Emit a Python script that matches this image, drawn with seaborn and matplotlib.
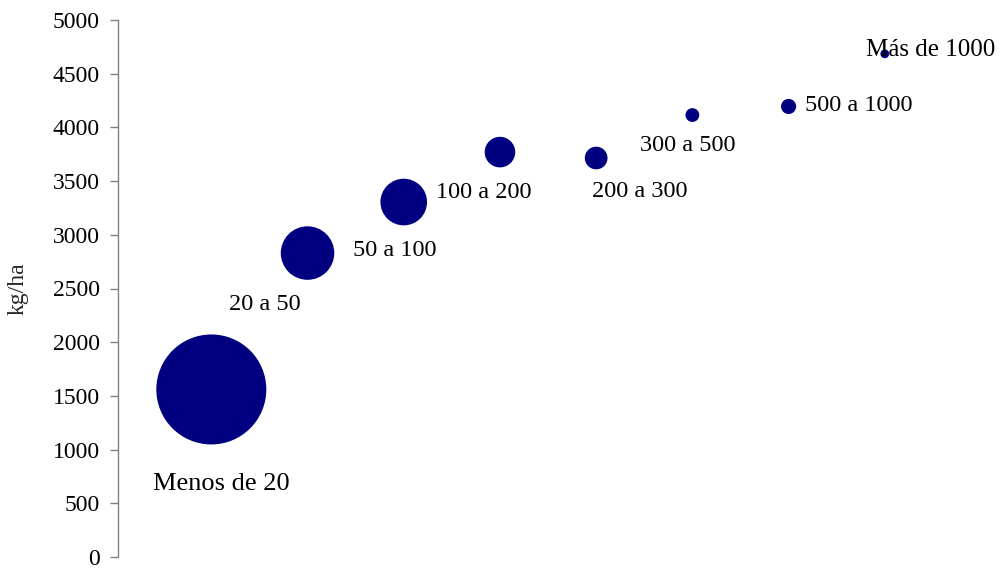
import matplotlib
matplotlib.use("Agg")
import matplotlib.pyplot as plt
import seaborn as sns
import pandas as pd

# Rendimiento por estrato de superficie
estratos = ["Menos de 20", "20 a 50", "50 a 100", "100 a 200",
            "200 a 300", "300 a 500", "500 a 1000", "Más de 1000"]
rendimiento_kg_ha = [1560, 2830, 3305, 3770, 3715, 4115, 4195, 4685]
participacion = [63.4, 15.0, 11.4, 4.9, 2.7, 1.0, 1.2, 0.4]
y_ticks = list(range(0, 5001, 500))

# Desplazamiento de cada etiqueta respecto de su burbuja (px, hacia abajo positivo)
label_offsets = [(9.5, 95), (-43, 51), (-9, 48.5), (-16.5, 40.5),
                 (44, 33.5), (-5, 30), (70.5, -0.5), (46, -4)]
label_sizes = [19, 17.5, 17.5, 17.5, 17.5, 17.5, 17.5, 18]

df = pd.DataFrame({
    "estrato": estratos,
    "pos": range(1, len(estratos) + 1),
    "kg": rendimiento_kg_ha,
    "part": participacion,
})

sns.set_style("white")
plt.rcParams["font.family"] = ["Liberation Serif", "DejaVu Serif"]

W, H = 1001, 570
fig = plt.figure(figsize=(W / 100, H / 100), dpi=100)
ax = fig.add_axes([118 / W, 13 / H, (981 - 118) / W, 537 / H])

navy = "#000080"
max_diam_pt = 110 * 0.72
sns.scatterplot(data=df, x="pos", y="kg", size="part",
                sizes=(0, max_diam_pt ** 2), size_norm=(0, max(participacion)),
                color=navy, edgecolor="none", linewidth=0, alpha=1,
                legend=False, ax=ax)

for (_, row), (dx, dy), fs in zip(df.iterrows(), label_offsets, label_sizes):
    ax.annotate(row["estrato"], (row["pos"], row["kg"]),
                xytext=(dx * 0.72, -dy * 0.72), textcoords="offset points",
                ha="center", va="center", fontsize=fs, color="black")

ax.set_xlim(0.03, 9)
ax.set_ylim(0, 5000)
ax.set_yticks(y_ticks)
ax.set_xticks([])
ax.set_xlabel("")
ax.set_ylabel("kg/ha", fontsize=17)
ax.yaxis.set_label_coords(-0.104, 0.5)

for side in ["top", "right", "bottom"]:
    ax.spines[side].set_visible(False)
ax.spines["left"].set_color("#808080")
ax.spines["left"].set_linewidth(1.0)
ax.tick_params(axis="y", direction="out", length=6, width=1.0,
               color="#808080", pad=7, labelsize=17, labelcolor="black", left=True)
ax.patch.set_alpha(0)

fig.savefig("out.png", dpi=100)
